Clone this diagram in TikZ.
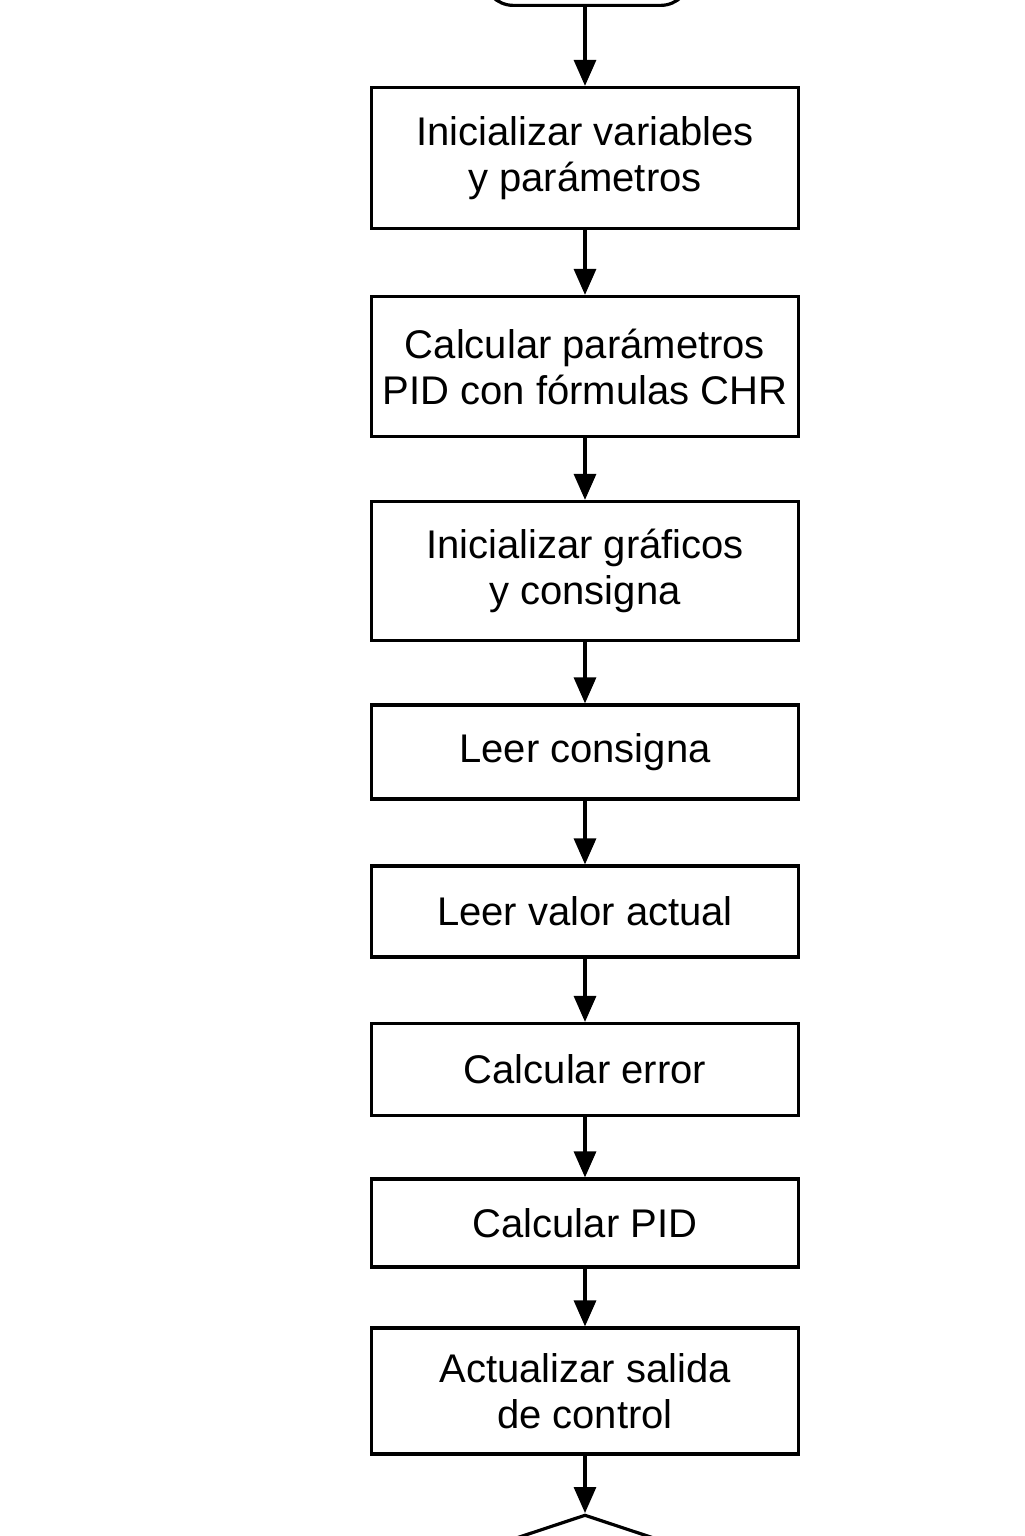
\documentclass[tikz,border=0pt]{standalone}
\usepackage{fontspec}
\setmainfont{Liberation Sans}
\usetikzlibrary{arrows.meta, shapes.geometric}

\begin{document}
\begin{tikzpicture}[x=0.5pt,y=-0.5pt,->,>={Triangle[length=13pt,width=11pt]},line width=1.6pt,
every node/.style={draw,rectangle,minimum width=213.5pt,align=center,inner sep=0pt,font=\fontsize{20pt}{23pt}\selectfont},
%startend/decision shapes
endbox/.style={rounded corners=15pt,minimum width=103.5pt,minimum height=60pt},
askbox/.style={diamond,minimum width=240pt,minimum height=80pt}
]
\clip (0,0) rectangle (1024,1536);
\fill[white] (0,0) rectangle (1024,1536);
\node [endbox,anchor=south] (nS) at (587,7) {};
\node [minimum height=70.5pt] (nA) at (585,158) {Inicializar variables\\ y parámetros};
\node [minimum height=70pt] (nB) at (585,366.5) {Calcular parámetros\\ PID con fórmulas CHR};
\node [minimum height=69.5pt] (nC) at (585,571) {Inicializar gráficos\\ y consigna};
\node [minimum height=47pt] (nD) at (585,752) {Leer consigna};
\node [minimum height=45.5pt] (nE) at (585,911.5) {Leer valor actual};
\node [minimum height=46pt] (nF) at (585,1069.5) {Calcular error};
\node [minimum height=44pt] (nG) at (585,1223) {Calcular PID};
\node [minimum height=63pt] (nH) at (585,1391) {Actualizar salida\\ de control};
\node [askbox,anchor=north] (nI) at (585,1513) {};

\draw (nS.south -| nA.north) -- (nA);
\draw (nA) -- (nB);
\draw (nB) -- (nC);
\draw (nC) -- (nD);
\draw (nD) -- (nE);
\draw (nE) -- (nF);
\draw (nF) -- (nG);
\draw (nG) -- (nH);
\draw (nH) -- (nI);

\end{tikzpicture}
\end{document}
